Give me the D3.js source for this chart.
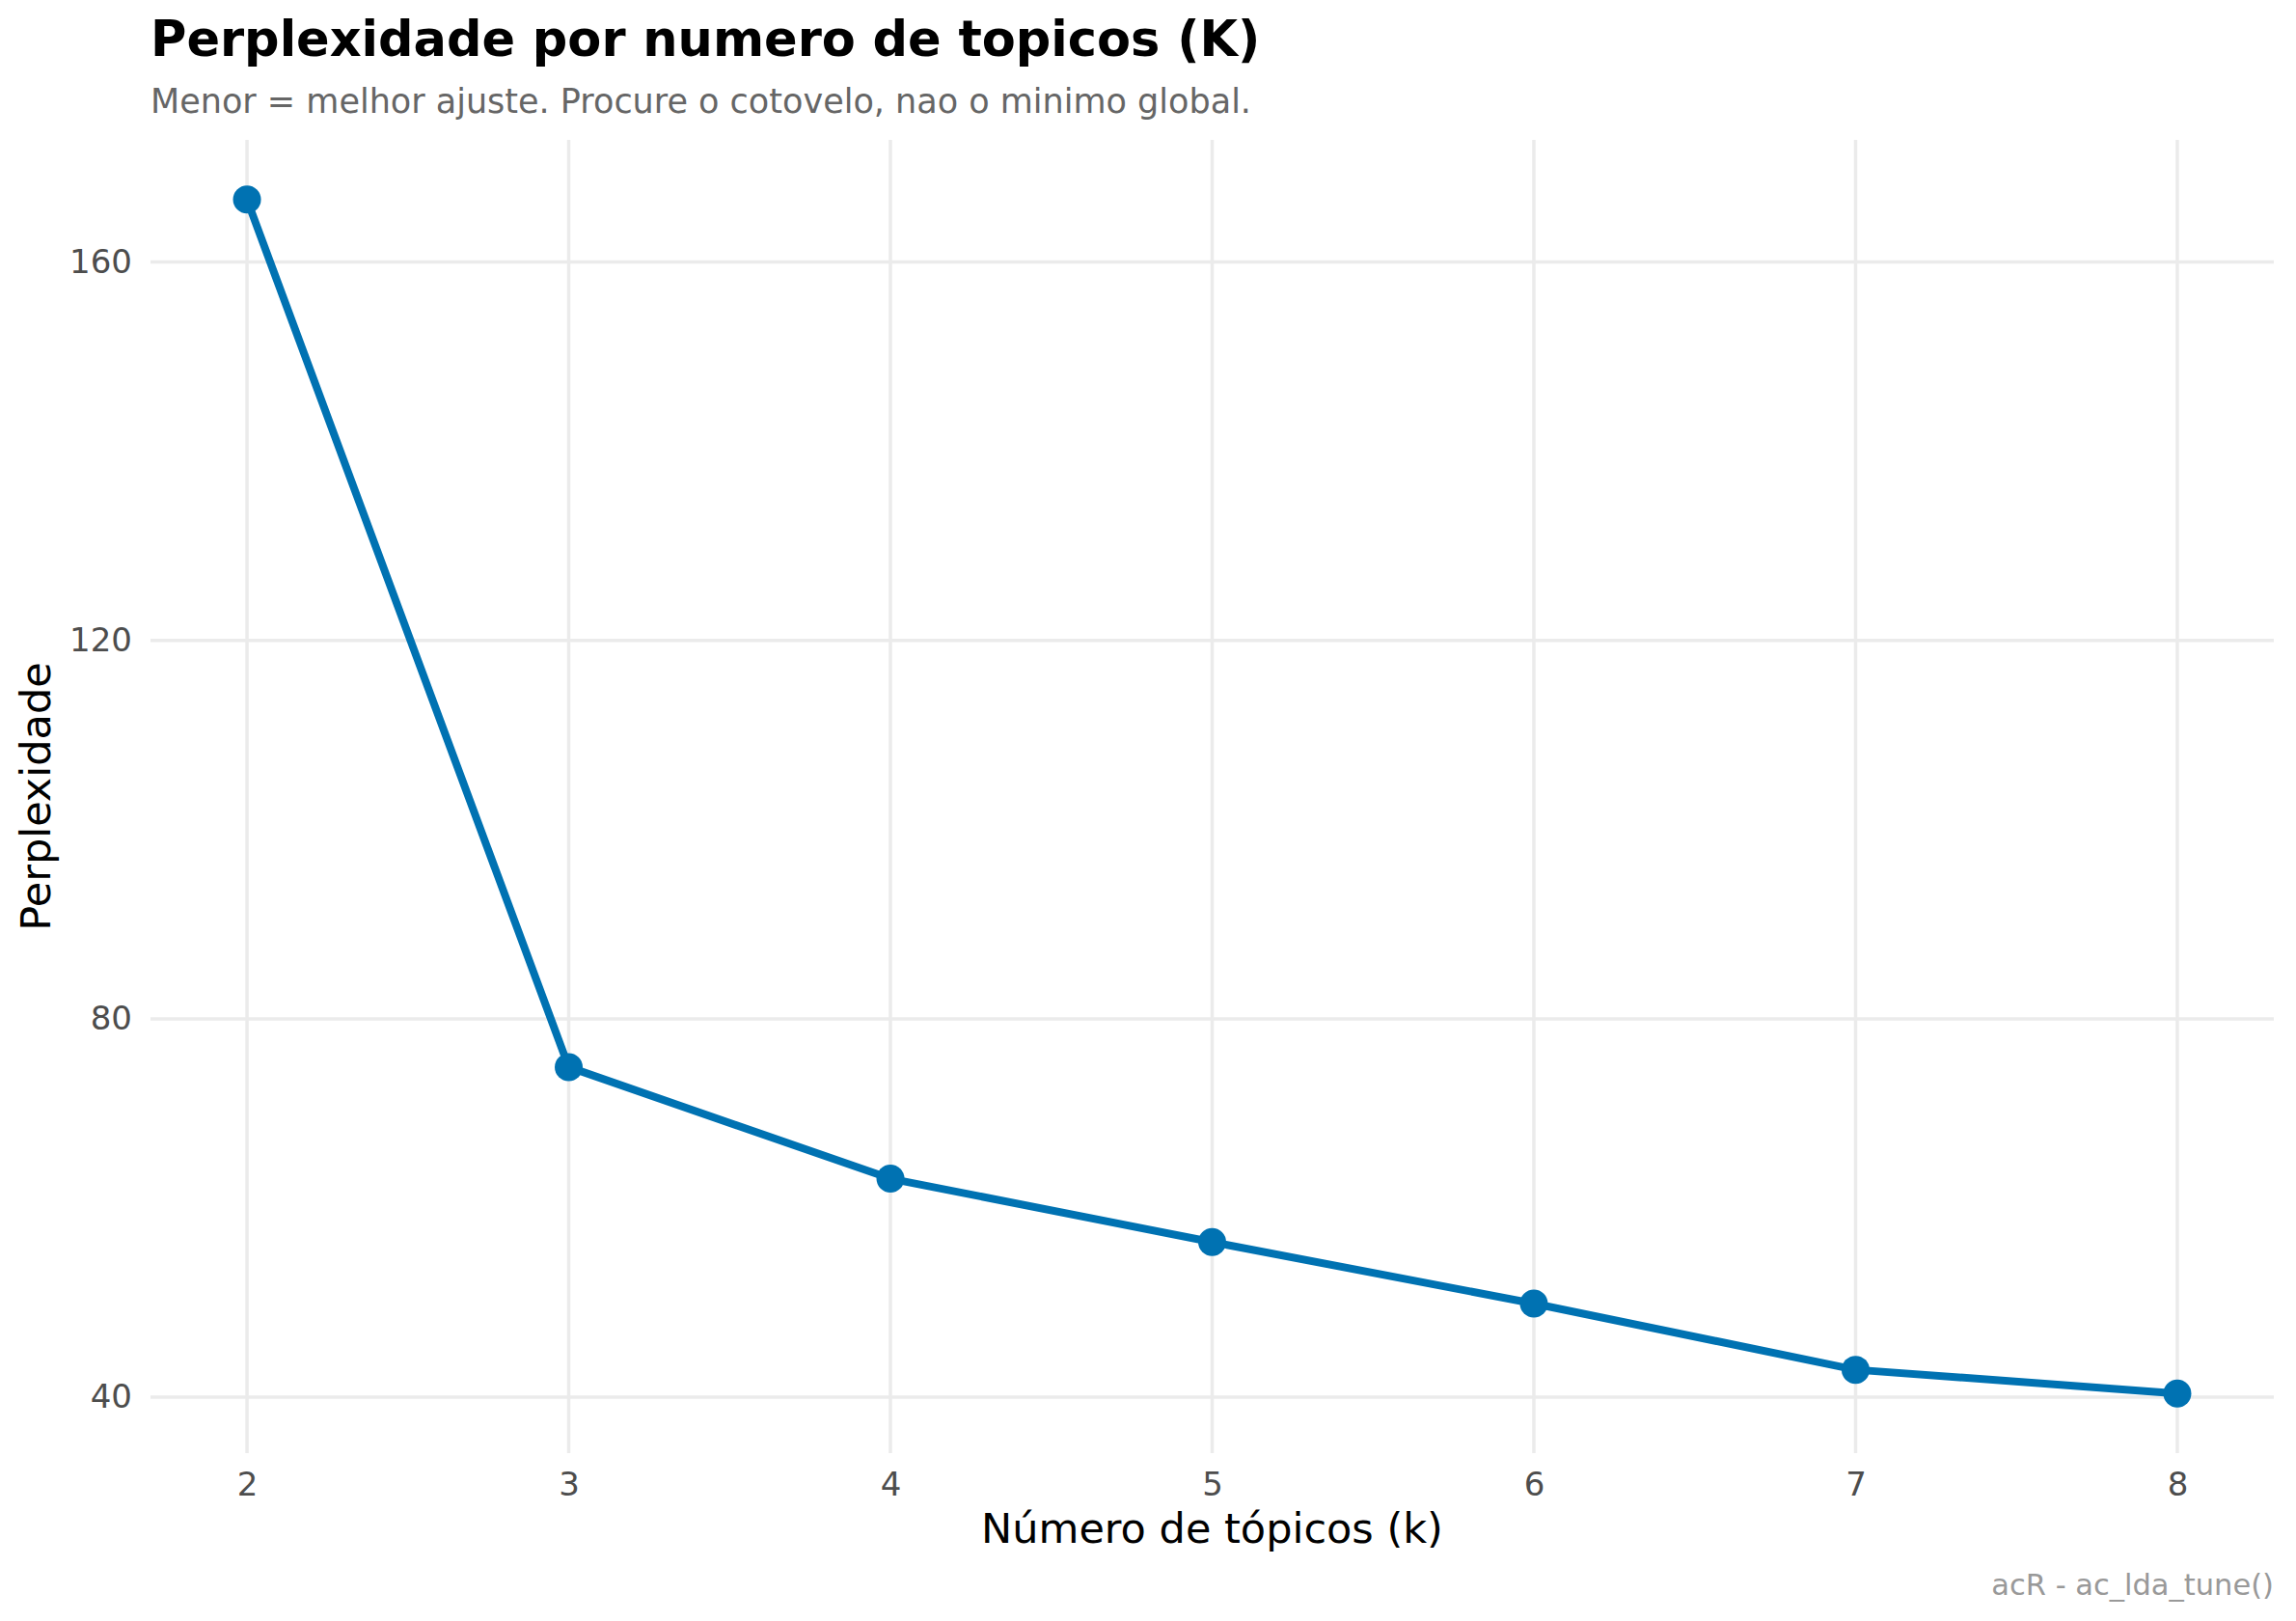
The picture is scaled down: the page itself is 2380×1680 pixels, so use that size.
<!DOCTYPE html>
<html>
<head>
<meta charset="utf-8">
<script src="https://cdn.jsdelivr.net/npm/d3@7"></script>
<style>
  body { margin: 0; background: #fff; }
  text { font-family: "DejaVu Sans", sans-serif; }
</style>
</head>
<body>
<svg id="chart" width="2380" height="1680"></svg>
<script>
// dados
var topicos = [2, 3, 4, 5, 6, 7, 8];
var perplexidade = [166.6, 74.9, 63.1, 56.4, 49.9, 42.9, 40.4];
var yTicks = [40, 80, 120, 160];

var titulo = "Perplexidade por numero de topicos (K)";
var subtitulo = "Menor = melhor ajuste. Procure o cotovelo, nao o minimo global.";
var xTitulo = "Número de tópicos (k)";
var yTitulo = "Perplexidade";
var legenda = "acR - ac_lda_tune()";

var W = 2380, H = 1680;
var panel = { left: 156, right: 2357, top: 145, bottom: 1506 };

var svg = d3.select("#chart");
svg.append("rect").attr("width", W).attr("height", H).attr("fill", "#fff");

// expansao de 5% como no ggplot
function expand(ext) {
    var d = (ext[1] - ext[0]) * 0.05;
    return [ext[0] - d, ext[1] + d];
}

var x = d3.scaleLinear()
    .domain(expand(d3.extent(topicos)))
    .range([panel.left, panel.right]);

var y = d3.scaleLinear()
    .domain(expand(d3.extent(perplexidade)))
    .range([panel.bottom, panel.top]);

// grade
var grid = svg.append("g");
grid.selectAll(".gy").data(yTicks).enter().append("line")
    .attr("x1", panel.left).attr("x2", panel.right)
    .attr("y1", function (d) { return y(d); })
    .attr("y2", function (d) { return y(d); })
    .attr("stroke", "#EBEBEB").attr("stroke-width", 3.5);
grid.selectAll(".gx").data(topicos).enter().append("line")
    .attr("y1", panel.top).attr("y2", panel.bottom)
    .attr("x1", function (d) { return x(d); })
    .attr("x2", function (d) { return x(d); })
    .attr("stroke", "#EBEBEB").attr("stroke-width", 3.5);

// eixos
var yAxis = svg.append("g")
    .attr("transform", "translate(" + panel.left + ",0)")
    .call(d3.axisLeft(y).tickValues(yTicks).tickSize(0).tickPadding(19));
var xAxis = svg.append("g")
    .attr("transform", "translate(0," + panel.bottom + ")")
    .call(d3.axisBottom(x).tickValues(topicos).tickFormat(d3.format("d")).tickSize(0).tickPadding(20));

[yAxis, xAxis].forEach(function (a) {
    a.select(".domain").remove();
    a.selectAll("text")
        .attr("font-family", "DejaVu Sans")
        .attr("font-size", 34)
        .attr("fill", "#4D4D4D");
});

// linha e pontos
var line = d3.line()
    .x(function (d, i) { return x(topicos[i]); })
    .y(function (d) { return y(d); });

svg.append("path")
    .datum(perplexidade)
    .attr("d", line)
    .attr("fill", "none")
    .attr("stroke", "#0072B2")
    .attr("stroke-width", 8)
    .attr("stroke-linejoin", "round");

svg.selectAll(".pt").data(perplexidade).enter().append("circle")
    .attr("cx", function (d, i) { return x(topicos[i]); })
    .attr("cy", function (d) { return y(d); })
    .attr("r", 14.5)
    .attr("fill", "#0072B2");

// textos
svg.append("text")
    .attr("x", panel.left).attr("y", 58)
    .attr("font-size", 51).attr("font-weight", "bold").attr("fill", "#000")
    .text(titulo);

svg.append("text")
    .attr("x", panel.left).attr("y", 117)
    .attr("font-size", 35).attr("fill", "#666666")
    .text(subtitulo);

svg.append("text")
    .attr("x", (panel.left + panel.right) / 2).attr("y", 1599)
    .attr("text-anchor", "middle")
    .attr("font-size", 43).attr("fill", "#000")
    .text(xTitulo);

svg.append("text")
    .attr("transform", "translate(52," + (panel.top + panel.bottom) / 2 + ") rotate(-90)")
    .attr("text-anchor", "middle")
    .attr("font-size", 43).attr("fill", "#000")
    .text(yTitulo);

svg.append("text")
    .attr("x", panel.right).attr("y", 1653)
    .attr("text-anchor", "end")
    .attr("font-size", 30.5).attr("fill", "#999999")
    .text(legenda);
</script>
</body>
</html>
